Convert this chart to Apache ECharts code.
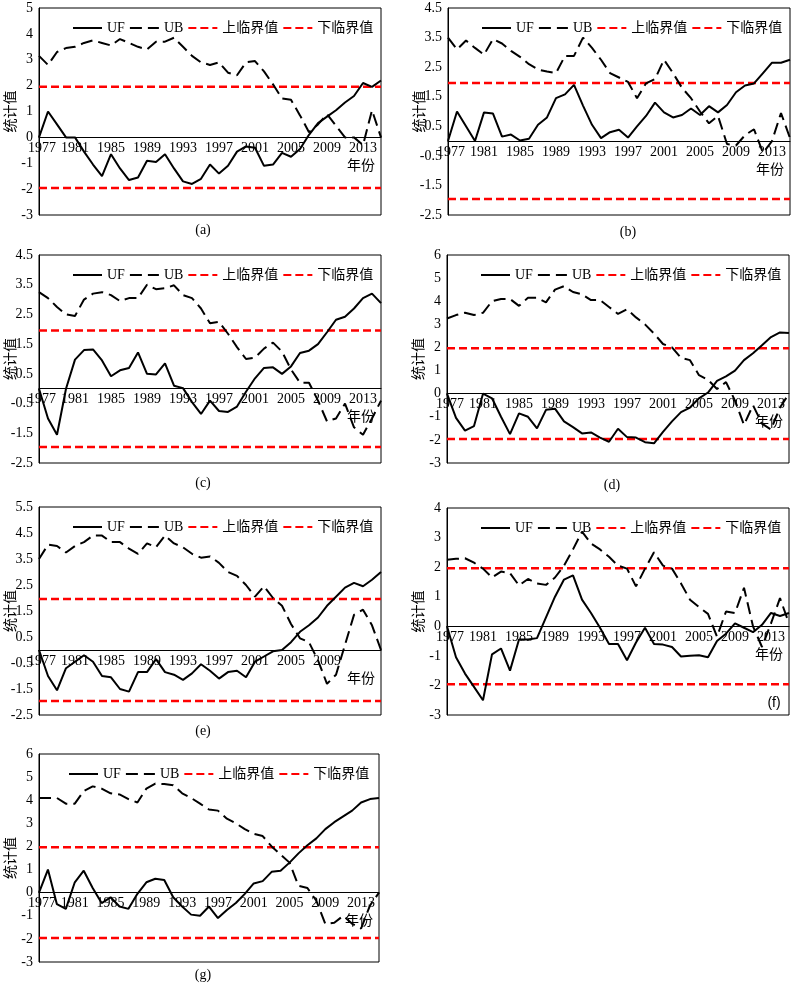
<!DOCTYPE html>
<html><head><meta charset="utf-8">
<script src="https://cdn.jsdelivr.net/npm/echarts@6/dist/echarts.min.js"></script>
<style>html,body{margin:0;padding:0;background:#fff}#c{width:793px;height:983px}</style>
</head><body><div id="c"></div>
<script>
const years = ['1977','1978','1979','1980','1981','1982','1983','1984','1985','1986','1987','1988','1989','1990','1991','1992','1993','1994','1995','1996','1997','1998','1999','2000','2001','2002','2003','2004','2005','2006','2007','2008','2009','2010','2011','2012','2013','2014','2015'];
const criticalValue = 1.96;
const seriesNames = ['UF','UB','上临界值','下临界值'];

const ufA = [0,1.0,0.5,0,0,-0.55,-1.05,-1.5,-0.65,-1.2, -1.65,-1.55,-0.9,-0.95,-0.65,-1.2,-1.7,-1.8,-1.6,-1.05, -1.4,-1.1,-0.55,-0.35,-0.4,-1.1,-1.05,-0.6,-0.75,-0.45, 0.1,0.55,0.8,1.05,1.35,1.6,2.1,1.95,2.2];
const ubA = [3.15,2.8,3.3,3.45,3.5,3.65,3.75,3.65,3.55,3.8, 3.65,3.5,3.4,3.7,3.7,3.85,3.5,3.15,2.9,2.8, 2.9,2.5,2.4,2.9,2.95,2.55,2.05,1.5,1.45,0.85, 0.2,0.5,0.9,0.45,0,0,-0.3,1.05,0];
const ufB = [0,1.0,0.5,0.0,0.97,0.93,0.15,0.22,0.02,0.08, 0.55,0.8,1.45,1.58,1.9,1.2,0.55,0.1,0.3,0.38, 0.12,0.5,0.85,1.3,0.97,0.8,0.88,1.1,0.88,1.18, 0.97,1.22,1.65,1.88,1.95,2.3,2.65,2.65,2.75];
const ubB = [3.5,3.1,3.4,3.15,2.92,3.45,3.3,3.05,2.85,2.6, 2.42,2.35,2.3,2.88,2.88,3.5,3.15,2.75,2.3,2.15, 2.0,1.45,1.95,2.1,2.75,2.3,1.8,1.45,1.0,0.6, 0.85,-0.1,-0.15,0.2,0.4,-0.4,0.0,0.95,0.1];
const ufC = [0,-1.0,-1.55,0.0,0.98,1.3,1.32,0.95,0.42,0.62, 0.7,1.22,0.5,0.48,0.85,0.1,0.02,-0.45,-0.85,-0.4, -0.75,-0.78,-0.6,-0.1,0.35,0.7,0.72,0.5,0.75,1.2, 1.28,1.5,1.9,2.32,2.42,2.7,3.05,3.2,2.88];
const ubC = [3.25,3.05,2.75,2.5,2.45,3.0,3.2,3.25,3.15,2.95, 3.05,3.05,3.5,3.35,3.38,3.48,3.15,3.05,2.7,2.2, 2.25,1.85,1.4,1.0,1.05,1.35,1.55,1.25,0.65,0.2, 0.2,-0.4,-1.1,-1.0,-0.5,-1.3,-1.55,-1.0,-0.4];
const ufD = [0,-1.05,-1.6,-1.4,0.0,-0.2,-1.0,-1.75,-0.85,-1.0, -1.5,-0.7,-0.65,-1.2,-1.45,-1.72,-1.68,-1.9,-2.08,-1.52, -1.88,-1.9,-2.1,-2.15,-1.65,-1.2,-0.8,-0.6,-0.2,0.05, 0.55,0.75,1.0,1.45,1.75,2.1,2.45,2.65,2.62];
const ubD = [3.25,3.4,3.5,3.4,3.5,4.0,4.1,4.1,3.8,4.15, 4.15,3.95,4.5,4.65,4.4,4.3,4.05,4.05,3.75,3.45, 3.65,3.3,3.0,2.6,2.15,2.0,1.55,1.45,0.8,0.6, 0.2,0.5,-0.3,-1.35,-0.5,-1.3,-1.55,-0.6,0];
const ufE = [0,-1.0,-1.55,-0.7,-0.45,-0.2,-0.45,-1.0,-1.05,-1.5, -1.6,-0.85,-0.85,-0.35,-0.85,-0.95,-1.15,-0.9,-0.55,-0.8, -1.1,-0.85,-0.8,-1.05,-0.45,-0.25,-0.05,0.0,0.3,0.7, 0.95,1.25,1.7,2.05,2.4,2.58,2.45,2.7,3.0];
const ubE = [3.5,4.05,4.0,3.75,4.0,4.15,4.4,4.4,4.15,4.15, 3.9,3.7,4.1,3.95,4.4,4.1,3.95,3.7,3.55,3.6, 3.35,3.0,2.85,2.5,2.05,2.45,2.0,1.7,1.0,0.45, 0.3,-0.4,-1.3,-0.95,0.2,1.35,1.55,0.95,0];
const ufF = [0,-1.05,-1.6,-2.05,-2.5,-0.95,-0.75,-1.5,-0.45,-0.45, -0.4,0.3,1.0,1.58,1.72,0.9,0.45,-0.05,-0.6,-0.6, -1.15,-0.55,-0.05,-0.6,-0.62,-0.7,-1.02,-1.0,-0.98,-1.05, -0.5,-0.25,0.1,-0.05,-0.2,0.05,0.45,0.35,0.45];
const ubF = [2.25,2.28,2.3,2.15,1.95,1.65,1.85,1.8,1.38,1.6, 1.45,1.4,1.65,2.05,2.6,3.2,2.8,2.6,2.35,2.05, 1.95,1.35,1.95,2.5,2.05,1.95,1.45,0.9,0.65,0.42, -0.35,0.5,0.45,1.3,0.0,-0.7,0.1,0.95,0.1];
const ufG = [0,1.0,-0.5,-0.7,0.45,0.95,0.2,-0.45,-0.2,-0.6, -0.7,-0.05,0.45,0.6,0.55,-0.2,-0.6,-0.95,-1.0,-0.6, -1.1,-0.75,-0.45,-0.05,0.4,0.5,0.9,0.95,1.3,1.7, 2.05,2.35,2.75,3.05,3.3,3.55,3.9,4.05,4.1];
const ubG = [4.1,4.1,4.1,3.85,3.85,4.4,4.6,4.5,4.3,4.25, 4.05,3.9,4.5,4.72,4.7,4.65,4.3,4.1,3.85,3.6, 3.55,3.2,3.0,2.75,2.55,2.45,2.0,1.65,1.3,0.3, 0.2,-0.35,-1.35,-1.3,-1.0,-1.35,-1.55,-0.55,0];

const yMins = [-3,-2.5,-2.5,-3,-2.5,-3,-3];
const yMaxs = [5,4.5,4.5,6,5.5,4,6];
const ufAll = [ufA,ufB,ufC,ufD,ufE,ufF,ufG];
const ubAll = [ubA,ubB,ubC,ubD,ubE,ubF,ubG];
const captions = ['(a)','(b)','(c)','(d)','(e)','(f)','(g)'];
const hiddenXLabels = [[],[],[],[],['2013'],[],[]];
const xAxisName = '年份';
const yAxisName = '统计值';

// layout (pixels)
const rects = [
  [39,8,342,207],[448,8,342,207],
  [39,255,342,208],[447,255,342,208],
  [39,507,342,208],[447,508,342,207],
  [39,754,340,208]
];
const capPos = [[203,230],[628,232],[203,483],[612,485],[203,731],[774,703],[203,975]];

const FONT = '"Liberation Serif","Times New Roman","Noto Sans CJK SC",serif';

const grids=[], xAxes=[], yAxes=[], series=[], legends=[], graphics=[];
rects.forEach((r,i)=>{
  grids.push({left:r[0],top:r[1],width:r[2],height:r[3],show:true,borderColor:'#000',borderWidth:1,
    backgroundColor:'transparent',containLabel:false,outerBoundsMode:'none'});
  const hide = hiddenXLabels[i];
  // move the category axis up to the value-axis zero line
  const zeroOffset = -r[3] * (0 - yMins[i]) / (yMaxs[i] - yMins[i]);
  xAxes.push({type:'category',gridIndex:i,data:years,boundaryGap:false,position:'bottom',offset:zeroOffset,
    axisLine:{onZero:false,lineStyle:{color:'#000',width:1}},
    axisTick:{show:false},
    axisLabel:{interval:(idx,val)=> idx%4===0 && hide.indexOf(val)<0,
      formatter:(val,idx)=> idx===0 ? '{first|'+val+'}' : val,
      rich:{first:{padding:[0,0,0,6],color:'#000',fontFamily:FONT,fontSize:14}},
      color:'#000',fontFamily:FONT,fontSize:14,margin:4},
    splitLine:{show:false}
  });
  yAxes.push({type:'value',gridIndex:i,min:yMins[i],max:yMaxs[i],interval:1,
    axisLine:{show:true,onZero:false,lineStyle:{color:'#000',width:1}},
    axisTick:{show:false},
    axisLabel:{color:'#000',fontFamily:FONT,fontSize:14,margin:6},
    splitLine:{show:false},
    name:yAxisName,nameLocation:'middle',nameGap:21,nameRotate:90,nameMoveOverlap:false,
    nameTextStyle:{color:'#000',fontFamily:FONT,fontSize:14}
  });
  series.push({type:'line',name:'UF',xAxisIndex:i,yAxisIndex:i,data:ufAll[i],symbol:'none',
    lineStyle:{color:'#000',width:2},itemStyle:{color:'#000'},z:4});
  series.push({type:'line',name:'UB',xAxisIndex:i,yAxisIndex:i,data:ubAll[i],symbol:'none',
    lineStyle:{color:'#000',width:2,type:[12,6]},itemStyle:{color:'#000'},z:3});
  series.push({type:'line',name:'上临界值',xAxisIndex:i,yAxisIndex:i,data:years.map(()=>criticalValue),symbol:'none',
    lineStyle:{color:'#ff0000',width:2.5,type:[8,4]},itemStyle:{color:'#ff0000'},z:2});
  series.push({type:'line',name:'下临界值',xAxisIndex:i,yAxisIndex:i,data:years.map(()=>-criticalValue),symbol:'none',
    lineStyle:{color:'#ff0000',width:2.5,type:[8,4]},itemStyle:{color:'#ff0000'},z:2});
  legends.push({left:r[0]+(i===6?24:28),top:r[1]+8,width:340,itemWidth:29,itemHeight:12,itemGap:4,
    data:seriesNames,selectedMode:false,
    itemStyle:{opacity:0,borderWidth:0},
    textStyle:{color:'#000',fontFamily:FONT,fontSize:14}});
  const isF = captions[i]==='(f)';
  graphics.push({type:'text',x:capPos[i][0],y:capPos[i][1],
    style:{text:captions[i],fill:'#000',font: isF?'14px "Liberation Sans","DejaVu Sans",sans-serif':'14px "Liberation Serif","Times New Roman",serif',
      textAlign:'center',textVerticalAlign:'middle'}});
  // x-axis name under the right end of the zero line
  graphics.push({type:'text',x:r[0]+r[2]-6,y:r[1]+r[3]+zeroOffset+29,
    style:{text:xAxisName,fill:'#000',font:'14px '+FONT,textAlign:'right',textVerticalAlign:'middle'}});
});

const chart = echarts.init(document.getElementById('c'),null,{renderer:'canvas'});
chart.setOption({
  animation:false,
  backgroundColor:'#fff',
  grid:grids, xAxis:xAxes, yAxis:yAxes, series:series, legend:legends,
  graphic:graphics
});
</script>
</body></html>
